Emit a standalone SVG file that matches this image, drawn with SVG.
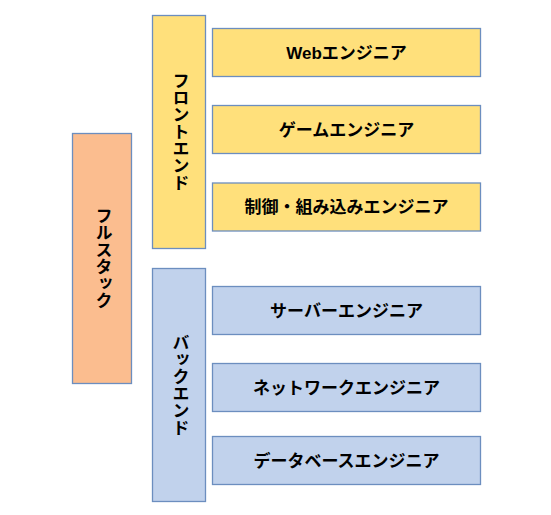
<svg xmlns="http://www.w3.org/2000/svg" width="551" height="515" viewBox="0 0 551 515">
<style>
rect{stroke:#6C8EBF;stroke-width:1.3}
.y{fill:#FFE07B}
.o{fill:#FBBD8F}
.b{fill:#C1D2EC}
text{font-family:"Liberation Sans","Noto Sans CJK JP",sans-serif;font-weight:bold;font-size:17px;fill:#000;text-anchor:middle}
.v{writing-mode:vertical-rl;dominant-baseline:central}
.h{dominant-baseline:central}
</style>
<rect width="551" height="515" fill="#fff" style="stroke:none"/>
<g id="fullstack"><rect class="o" x="72.5" y="133.5" width="59" height="250"/><text class="v" x="102" y="258.5">フルスタック</text></g>
<g id="frontend"><rect class="y" x="152.5" y="15.5" width="53" height="233"/><text class="v" x="179" y="132">フロントエンド</text></g>
<g id="backend"><rect class="b" x="152.5" y="268.5" width="53" height="233"/><text class="v" x="179" y="385">バックエンド</text></g>
<g id="web"><rect class="y" x="212.5" y="28.5" width="268" height="48"/><text class="h" x="346.5" y="53">Webエンジニア</text></g>
<g id="game"><rect class="y" x="212.5" y="105.5" width="268" height="48"/><text class="h" x="346.5" y="130">ゲームエンジニア</text></g>
<g id="embedded"><rect class="y" x="212.5" y="183" width="268" height="48"/><text class="h" x="346.5" y="207.5">制御・組み込みエンジニア</text></g>
<g id="server"><rect class="b" x="212.5" y="286.5" width="268" height="48"/><text class="h" x="346.5" y="311">サーバーエンジニア</text></g>
<g id="network"><rect class="b" x="212.5" y="363.5" width="268" height="48"/><text class="h" x="346.5" y="388">ネットワークエンジニア</text></g>
<g id="database"><rect class="b" x="212.5" y="436.5" width="268" height="48"/><text class="h" x="346.5" y="461">データベースエンジニア</text></g>
<g id="connectors"></g>
</svg>
